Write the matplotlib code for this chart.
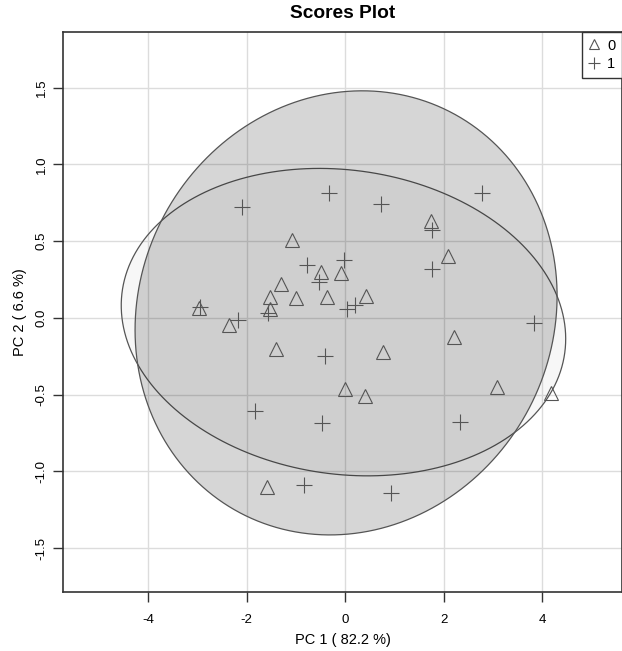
import numpy as np
import matplotlib
matplotlib.use("Agg")
import matplotlib.pyplot as plt
from matplotlib.patches import Polygon

plt.rcParams['font.family'] = ['Liberation Sans', 'DejaVu Sans']

# Group 0 (triangles)
g0_x = [-2.96, -2.35, -1.08, -1.31, -1.52, -1.53, -0.995, -0.487, -0.081, -0.36, -1.40,
        1.753, 2.10, 0.433, 2.207, 0.772, 3.09, 4.19, 0.007, 0.41, -1.58]
g0_y = [0.063, -0.046, 0.508, 0.22, 0.139, 0.057, 0.132, 0.30, 0.295, 0.137, -0.202,
        0.634, 0.406, 0.143, -0.124, -0.221, -0.452, -0.49, -0.46, -0.506, -1.10]
# Group 1 (plus)
g1_x = [-2.10, -0.33, -2.94, -2.18, -0.765, -0.014, -0.528, -1.57, 0.034, 0.203, -0.406,
        0.724, 2.775, 1.773, 1.773, 3.84, -1.84, -0.474, -0.826, 2.335, 0.94]
g1_y = [0.725, 0.812, 0.074, -0.013, 0.345, 0.378, 0.235, 0.035, 0.059, 0.085, -0.245,
        0.743, 0.812, 0.573, 0.317, -0.035, -0.606, -0.682, -1.09, -0.68, -1.142]

groups = ["0", "1"]
x_ticks = [-4, -2, 0, 2, 4]
y_ticks = [-1.5, -1.0, -0.5, 0.0, 0.5, 1.0, 1.5]
title = "Scores Plot"
xlabel = "PC 1 ( 82.2 %)"
ylabel = "PC 2 ( 6.6 %)"


def conf_ellipse(x, y, level_t=np.sqrt(5.991464547), n=200):
    x = np.asarray(x); y = np.asarray(y)
    cov = np.cov(x, y)
    vals, vecs = np.linalg.eigh(cov)
    t = np.linspace(0, 2 * np.pi, n)
    circ = np.vstack([np.cos(t), np.sin(t)])
    pts = vecs @ (np.sqrt(vals)[:, None] * circ) * level_t
    return np.column_stack([pts[0] + x.mean(), pts[1] + y.mean()])


fig = plt.figure(figsize=(6.22, 6.51), dpi=100)
ax = fig.add_axes([63 / 622, 1 - 592 / 651, 1 - 63 / 622, (592 - 32) / 651])

ax.set_xlim(-5.73, 5.625)
ax.set_ylim(-1.785, 1.863)
ax.set_xticks(x_ticks)
ax.set_xticklabels([str(v) for v in x_ticks])
ax.set_yticks(y_ticks)
ax.set_yticklabels([f"{v:.1f}" for v in y_ticks], rotation=90, va='center')
ax.grid(True, color='#dcdcdc', lw=1.0, zorder=0)
ax.set_axisbelow(True)

e0 = conf_ellipse(g0_x, g0_y)
e1 = conf_ellipse(g1_x, g1_y)
ax.add_patch(Polygon(e0, closed=True, facecolor=(0, 0, 0, 0.03), edgecolor='#555555', lw=0.9, zorder=1))
ax.add_patch(Polygon(e1, closed=True, facecolor=(0, 0, 0, 0.16), edgecolor='#555555', lw=0.9, zorder=2))

ax.plot(g0_x, g0_y, linestyle='none', marker='^', markersize=10, markerfacecolor='none',
        markeredgecolor='#555555', markeredgewidth=0.8, zorder=3, label=groups[0])
ax.plot(g1_x, g1_y, linestyle='none', marker='+', markersize=12, markerfacecolor='none',
        markeredgecolor='#555555', markeredgewidth=0.8, zorder=3, label=groups[1])

for s in ax.spines.values():
    s.set_color('#333333')
    s.set_linewidth(1.2)
ax.tick_params(axis='both', direction='out', length=7, width=1, color='#333333', labelsize=9.5)
ax.tick_params(axis='x', pad=9)
ax.tick_params(axis='y', pad=4)

ax.set_title(title, fontsize=13.8, fontweight='bold', pad=10)
ax.set_xlabel(xlabel, fontsize=10.5, labelpad=5)
ax.set_ylabel(ylabel, fontsize=10.5, labelpad=6)

leg = ax.legend(loc='upper right', borderaxespad=0, fancybox=False, edgecolor='#333333',
                framealpha=1, fontsize=10.5, handlelength=0.8, handletextpad=0.5,
                labelspacing=0.3, borderpad=0.45, markerscale=0.75)
leg.get_frame().set_linewidth(1.0)

fig.savefig("out.png", dpi=100)
